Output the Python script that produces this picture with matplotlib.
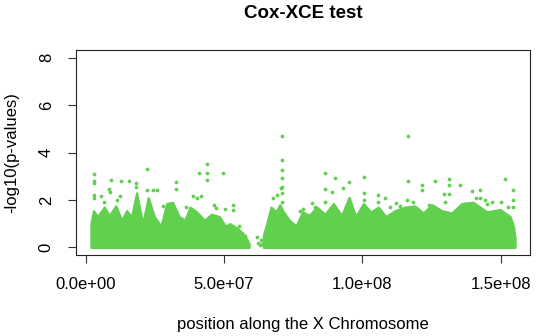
import matplotlib
matplotlib.use("Agg")
import matplotlib.pyplot as plt
import numpy as np

plt.rcParams['font.family'] = ['Liberation Sans', 'DejaVu Sans']

title = "Cox-XCE test"
xlabel = "position along the X Chromosome"
ylabel = "-log10(p-values)"
xticks = [0, 5e7, 1e8, 1.5e8]
xticklabels = ["0.0e+00", "5.0e+07", "1.0e+08", "1.5e+08"]
yticks = [0, 2, 4, 6, 8]

# upper (spiky) edge of the SNP cloud, p-arm (position in Mb, -log10 p)
band1_pos = [1.9, 2.8, 4.3, 6.7, 8.5, 10.9, 13.0, 14.8, 16.6, 18.4, 20.6, 22.6, 24.8,
             27.2, 29.3, 31.4, 33.8, 35.9, 37.7, 40.1, 42.9, 45.5, 48.3, 50.5, 52.2,
             54.9, 56.8, 58.0, 59.1]
band1_top = [1.0, 1.55, 1.3, 1.7, 1.35, 1.75, 1.15, 1.55, 1.3, 2.3, 1.0, 2.1, 1.3,
             0.9, 1.85, 1.9, 1.3, 1.15, 1.7, 1.5, 1.15, 1.4, 1.3, 0.9, 1.0,
             0.8, 0.6, 0.4, 0.15]

# upper (spiky) edge of the SNP cloud, q-arm
band2_pos = [64.2, 65.2, 67.0, 68.8, 70.2, 71.2, 73.6, 76.0, 78.4, 80.8, 83.5, 86.5,
             89.5, 92.5, 95.2, 97.6, 100.4, 103.0, 105.8, 108.5, 111.8, 115.4, 119.0,
             122.0, 125.1, 128.7, 132.3, 135.9, 140.1, 145.0, 149.8, 153.4, 154.6, 155.2]
band2_top = [0.5, 0.9, 1.7, 1.5, 1.8, 1.55, 1.15, 0.9, 1.5, 1.35, 1.7, 1.4,
             1.85, 1.35, 2.1, 1.3, 1.85, 1.5, 1.7, 1.3, 1.55, 1.7, 1.75,
             1.45, 1.8, 1.55, 1.45, 1.85, 1.9, 1.5, 1.6, 1.3, 0.9, 0.4]

# isolated SNPs (position in Mb, -log10 p)
snp_pos = [3.0, 3.0, 3.0, 3.0, 3.0, 5.4, 6.6, 8.4, 8.8, 9.0, 11.3, 12.4, 12.8, 15.7,
           18.2, 18.2, 22.2, 22.2, 24.3, 25.8, 27.9, 32.6, 32.6, 36.3, 38.8, 40.2,
           41.0, 41.7, 43.9, 43.9, 43.9, 46.4, 47.0, 49.6, 50.4, 53.3, 53.3, 55.4,
           57.5,
           61.9, 62.3, 62.9, 63.4, 63.8,
           71.0, 71.0, 71.0, 71.0, 71.0, 71.0, 71.0, 70.5, 69.3, 67.7, 77.5,
           81.8, 83.0, 78.5, 86.5, 86.5, 86.5, 89.0, 90.1, 93.0, 95.2, 95.2, 95.2,
           100.6, 100.6, 100.6, 105.7, 105.7, 108.2, 110.0, 112.2, 113.6,
           116.5, 116.5, 116.2, 118.4, 121.6, 121.6, 124.0, 126.3, 129.5, 130.0,
           131.3, 131.3, 131.3, 135.3, 137.0, 139.6, 141.0, 142.5, 142.5, 144.4,
           145.0, 146.9, 150.1, 151.6, 152.7, 154.3, 154.3, 154.3]
snp_val = [3.1, 2.8, 2.7, 2.2, 2.1, 2.17, 1.9, 2.45, 2.35, 2.84, 2.0, 2.17, 2.78, 2.8,
           2.7, 2.55, 3.32, 2.4, 2.4, 2.4, 1.75, 2.75, 2.45, 1.7, 2.18, 2.07,
           3.12, 2.18, 3.5, 3.12, 2.86, 1.8, 1.65, 3.14, 1.62, 1.8, 1.58, 0.89,
           0.5,
           0.45, 0.2, 0.1, 0.3, 0.15,
           4.7, 3.7, 3.27, 2.94, 2.55, 2.3, 1.9, 2.5, 2.2, 2.1, 1.52,
           1.86, 1.7, 1.6, 3.12, 2.45, 1.9, 2.34, 2.94, 2.52, 2.77, 2.05, 1.85,
           2.97, 2.3, 2.0, 2.2, 1.9, 2.08, 1.7, 1.87, 1.75,
           4.69, 2.8, 2.0, 1.9, 2.63, 2.42, 1.8, 2.79, 2.26, 1.9,
           2.89, 2.62, 2.25, 2.62, 1.85, 2.36, 2.1, 2.4, 2.08, 2.0,
           1.85, 1.9, 1.9, 2.89, 1.7, 2.4, 2.0, 1.7]

green = "#61D04F"

W, H = 536, 336
fig = plt.figure(figsize=(W / 100, H / 100), dpi=100)
L, R, T, B = 76, 530, 50, 255
ax = fig.add_axes([L / W, 1 - B / H, (R - L) / W, (B - T) / H])

mb = 1e6
for pos, top in ((band1_pos, band1_top), (band2_pos, band2_top)):
    ax.fill_between(np.array(pos) * mb, 0, top, facecolor=green,
                    lw=1.6, edgecolor=green)
ax.plot(np.array(snp_pos) * mb, snp_val, 'o', color=green, ms=2.7, mec='none')

ax.set_xlim(-3.5e6, 1.606e8)
ax.set_ylim(-0.32, 8.32)
ax.set_xticks(xticks)
ax.set_xticklabels(xticklabels, fontsize=12)
ax.set_yticks(yticks)
ax.set_yticklabels([str(v) for v in yticks], fontsize=12, rotation=90, va='center')
ax.tick_params(axis='both', length=6, width=0.8, direction='out', color='#333333')
ax.tick_params(axis='x', pad=10)
ax.tick_params(axis='y', pad=10)
for s in ax.spines.values():
    s.set_linewidth(0.8)
    s.set_color('#222222')

fig.text(303 / W, 1 - 13 / H, title, ha='center', va='center', fontsize=13.5, fontweight='bold')
fig.text(303 / W, 1 - 325 / H, xlabel, ha='center', va='center', fontsize=12)
fig.text(12 / W, 1 - 153 / H, ylabel, ha='center', va='center', fontsize=12, rotation=90)

fig.savefig("out.png", dpi=100)
